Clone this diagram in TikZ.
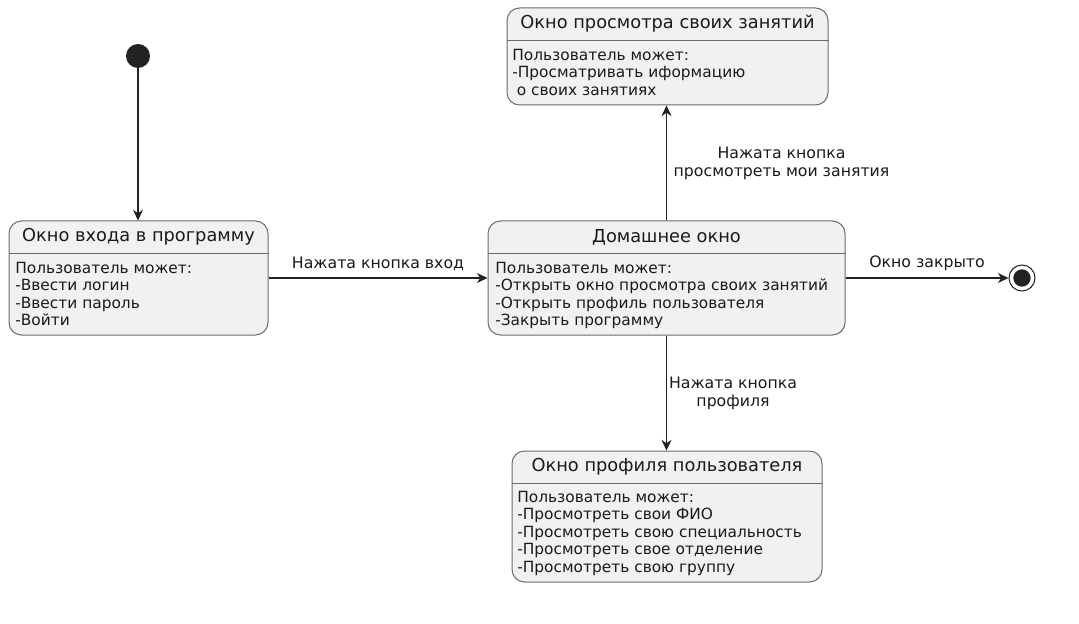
\documentclass[tikz,border=0pt]{standalone}
\usepackage{fontspec}
\setmainfont{DejaVu Sans}
\usetikzlibrary{arrows.meta,calc}
\definecolor{statefill}{HTML}{F1F1F1}
\definecolor{stateline}{HTML}{6A6A6A}
\definecolor{flowline}{HTML}{222222}
\definecolor{textdark}{HTML}{1A1A1A}
\begin{document}
\begin{tikzpicture}[x=0.75pt,y=-0.75pt,
  state/.style={draw=stateline, fill=statefill, rounded corners=9.4pt, line width=0.75pt, inner sep=0pt},
  sep/.style={draw=stateline, line width=0.75pt},
  title/.style={font=\fontsize{13.35}{15}\selectfont, text=textdark, inner sep=0pt},
  body/.style={font=\fontsize{11.55}{13.1}\selectfont, align=left, anchor=north west, inner sep=0pt, text=textdark},
  lbl/.style={font=\fontsize{11.8}{13.6}\selectfont, align=center, inner sep=0pt, text=textdark},
  flow/.style={draw=flowline, line width=0.8pt, -{Stealth[length=8pt, width=7.5pt, inset=2.6pt]}}
]
\useasboundingbox[fill=white] (0,0) rectangle (1079,624);

% initial and final pseudo-states
\node[circle, fill=flowline, minimum size=18pt, inner sep=0pt] (init) at (138,56) {};
\node[circle, draw=flowline, fill=white, line width=0.75pt, minimum size=19.5pt, inner sep=0pt] (final) at (1022,278) {};
\node[circle, fill=flowline, minimum size=13pt, inner sep=0pt] (finaldot) at (final.center) {};

% states
\node[state, minimum width=194.25pt, minimum height=85.5pt] (login) at (138.5,278) {};
\node[state, minimum width=267.75pt, minimum height=85.5pt] (home) at (666.5,278) {};
\node[state, minimum width=240.75pt, minimum height=72.75pt] (views) at (667.5,56.5) {};
\node[state, minimum width=232.5pt, minimum height=98.25pt] (profile) at (667,516.5) {};

% header separators
\foreach \s in {login,home,views,profile}
  \draw[sep] ($(\s.north west)+(0,33)$) -- ($(\s.north east)+(0,33)$);

% titles
\node[title] (logint) at ($(login.north)+(0,16.5)$) {Окно входа в программу};
\node[title] (homet) at ($(home.north)+(0,16.5)$) {Домашнее окно};
\node[title] (viewst) at ($(views.north)+(0,16.5)$) {Окно просмотра своих занятий};
\node[title] (profilet) at ($(profile.north)+(0,16.5)$) {Окно профиля пользователя};

% descriptions
\node[body] (loginb) at (15,262) {Пользователь может:\\-Ввести логин\\-Ввести пароль\\-Войти};
\node[body] (homeb) at (495,262) {Пользователь может:\\-Открыть окно просмотра своих занятий\\-Открыть профиль пользователя\\-Закрыть программу};
\node[body] (viewsb) at (512,49) {Пользователь может:\\-Просматривать иформацию\\\hspace{0.3em}о своих занятиях};
\node[body] (profileb) at (517,491) {Пользователь может:\\-Просмотреть свои ФИО\\-Просмотреть свою специальность\\-Просмотреть свое отделение\\-Просмотреть свою группу};

% transitions
\draw[flow] (init) -- (init |- login.north);
\draw[flow] (login.east) -- (home.west)
  node[lbl, midway, anchor=south, yshift=5pt] (l1) {Нажата кнопка вход};
\draw[flow] (home.north) -- (home.north |- views.south)
  node[lbl, midway, anchor=west, xshift=5pt] (l2) {Нажата кнопка\\просмотреть мои занятия};
\draw[flow] (home.south) -- (home.south |- profile.north)
  node[lbl, midway, anchor=west, xshift=1.5pt] (l3) {Нажата кнопка\\профиля};
\draw[flow] (home.east) -- (final)
  node[lbl, midway, anchor=south, yshift=5pt] (l4) {Окно закрыто};
\end{tikzpicture}
\end{document}
